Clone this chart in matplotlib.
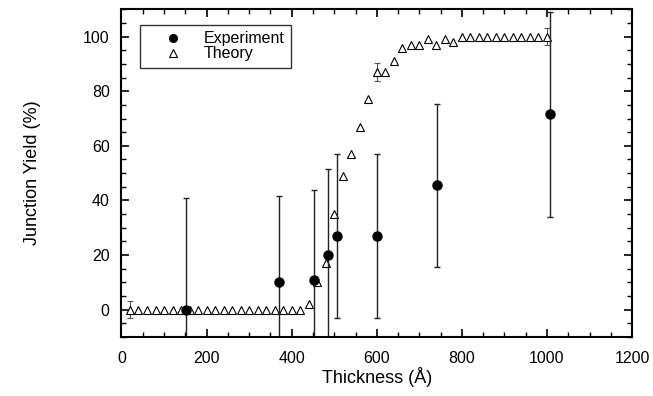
import matplotlib
matplotlib.use("Agg")
import matplotlib.pyplot as plt
from matplotlib.ticker import MultipleLocator

plt.rcParams['font.family'] = ['Liberation Sans', 'DejaVu Sans']

# experiment (thickness in Angstrom, yield %, symmetric error)
exp_x = [152, 371, 453, 485, 506, 601, 741, 1008]
exp_y = [0, 10, 11, 20, 27, 27, 45.5, 71.5]
exp_err = [41, 31.5, 33, 31.5, 30, 30, 30, 37.5]

# theory
theory_x = list(range(20, 1001, 20))
theory_y = [0] * 21 + [2, 10, 17, 35, 49, 57, 67, 77, 87, 87, 91, 96, 97, 97,
                       99, 97, 99, 98] + [100] * 11
theory_err_x = [20, 600, 1000]
theory_err_y = [0, 87, 100]
theory_err = [3, 3.2, 3]

fig = plt.figure(figsize=(6.53, 3.96), dpi=100)
ax = fig.add_axes([0.186, 0.149, 0.782, 0.8275])

ax.errorbar(theory_err_x, theory_err_y, yerr=theory_err, fmt='none',
            ecolor='#555555', elinewidth=0.8, capsize=2.5, capthick=0.8)
ax.plot(theory_x, theory_y, linestyle='none', marker='^', markersize=6,
        markerfacecolor='white', markeredgecolor='black', markeredgewidth=0.8,
        label='Theory')
ax.errorbar(exp_x, exp_y, yerr=exp_err, fmt='none',
            ecolor='#222222', elinewidth=1.0, capsize=2.5, capthick=1.0)
ax.plot(exp_x, exp_y, linestyle='none', marker='o', markersize=6.5,
        color='black', label='Experiment')

ax.set_xlim(0, 1200)
ax.set_ylim(-10, 110)
ax.xaxis.set_major_locator(MultipleLocator(200))
ax.xaxis.set_minor_locator(MultipleLocator(50))
ax.yaxis.set_major_locator(MultipleLocator(20))
ax.yaxis.set_minor_locator(MultipleLocator(5))
ax.tick_params(which='both', direction='in', top=True, right=True, labelsize=11.5)
ax.tick_params(which='major', length=6, width=1.2)
ax.tick_params(which='minor', length=3.5, width=1.0)
ax.tick_params(axis='x', pad=10)
ax.tick_params(axis='y', pad=8.5)
for s in ax.spines.values():
    s.set_linewidth(1.5)

ax.set_xlabel('Thickness (Å)', fontsize=13, labelpad=1)
ax.set_ylabel('Junction Yield (%)', fontsize=13, labelpad=30)

handles, labels = ax.get_legend_handles_labels()
order = [labels.index('Experiment'), labels.index('Theory')]
leg = ax.legend([handles[i] for i in order], [labels[i] for i in order],
                loc='upper left', bbox_to_anchor=(0.036, 0.952),
                borderaxespad=0, fontsize=11.5, frameon=True, fancybox=False,
                edgecolor='black', handletextpad=0.2, borderpad=0.4,
                labelspacing=0.0, handlelength=3.4, markerscale=0.85)
leg.get_frame().set_linewidth(1.0)

fig.savefig('out.png', dpi=100)
